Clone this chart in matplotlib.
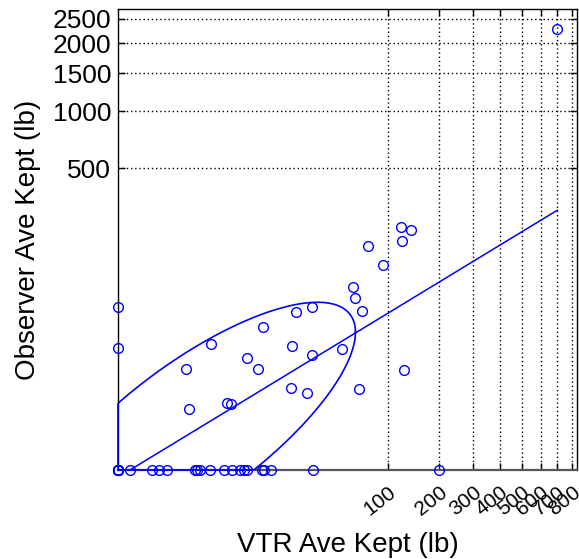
import numpy as np
import matplotlib
matplotlib.use('Agg')
import matplotlib.pyplot as plt

plt.rcParams['font.family'] = ['Liberation Sans', 'DejaVu Sans']

# trips: VTR average kept vs observer average kept (lb)
vtr_kept = [0, 0, 0, 0, 0, 0,
            0, 0,
            0.00033, 0.0243, 0.0547, 0.111, 0.644, 0.732, 0.850, 1.32, 2.40, 3.14,
            4.17, 4.78, 5.16, 8.02, 8.61, 10.3, 27.4, 200,
            1.41, 0.41, 0.48, 2.63, 3.07, 5.21, 7.22, 8.38, 16.7, 17.4, 18.7, 24.1,
            26.4, 26.6, 47.1, 57.6, 59.3, 63.7, 66.6, 73.4, 93.1, 120, 138, 123,
            126, 700]
obs_kept = [0, 0, 0, 0, 0, 0,
            42.8, 13.4,
            0, 0, 0, 0, 0, 0, 0, 0, 0, 0,
            0, 0, 0, 0, 0, 0, 0, 0,
            15.2, 6.18, 0.81, 1.24, 1.14, 9.39, 6.18, 25.4, 2.68, 14.4, 38.0, 2.07,
            10.7, 43.1, 12.8, 67.6, 53.1, 2.58, 38.5, 152, 107, 211, 200, 166,
            6.08, 2280]

x_ticks = [100, 200, 300, 400, 500, 600, 700, 800]
y_ticks = [500, 1000, 1500, 2000, 2500]

# fitted line and ellipse (4th-root units)
line_slope = 0.814
line_icpt = -0.114
ell_cx, ell_cy = 0.89, 0.63
ell_sx, ell_sy = 1.89, 2.00
ell_rho = 0.765


def fwd(v):
    v = np.asarray(v, dtype=float)
    return np.sign(v) * np.abs(v) ** 0.25


def inv(v):
    v = np.asarray(v, dtype=float)
    return np.sign(v) * np.abs(v) ** 4


fig = plt.figure(figsize=(5.79, 5.59), dpi=100)
ax = fig.add_axes([118 / 579, 89 / 559, 459 / 579, 461 / 559])
ax.set_xscale('function', functions=(fwd, inv))
ax.set_yscale('function', functions=(fwd, inv))
ax.set_xlim(0, 834)
ax.set_ylim(0, 2729)

ax.set_xticks(x_ticks)
ax.set_yticks(y_ticks)
ax.set_xticklabels([str(v) for v in x_ticks], rotation=38, ha='right',
                   va='top', rotation_mode='anchor', fontsize=15)
ax.set_yticklabels([str(v) for v in y_ticks], fontsize=19)
ax.xaxis.set_minor_locator(matplotlib.ticker.NullLocator())
ax.yaxis.set_minor_locator(matplotlib.ticker.NullLocator())
ax.tick_params(axis='both', which='major', direction='in', top=True,
               right=True, length=5, width=1, color='black')
ax.tick_params(axis='x', pad=9)
ax.tick_params(axis='y', pad=5)
ax.grid(True, color='black', linestyle=(0, (1, 2)), linewidth=1)
ax.set_axisbelow(True)

# ellipse, pushed back onto the axes where it goes below zero
t = np.linspace(0, 2 * np.pi, 721)
ex = ell_cx + ell_sx * np.cos(t)
ey = ell_cy + ell_sy * (ell_rho * np.cos(t) + np.sqrt(1 - ell_rho ** 2) * np.sin(t))
ax.plot(inv(np.clip(ex, 0, None)), inv(np.clip(ey, 0, None)), color='#0000ff',
        linewidth=1.2, clip_on=False, zorder=3)

tx = np.linspace(0, fwd(max(vtr_kept)), 300)
ty = np.clip(line_slope * tx + line_icpt, 0, None)
ax.plot(inv(tx), inv(ty), color='#0000ff', linewidth=1.1, clip_on=False, zorder=3)

ax.plot(vtr_kept, obs_kept, 'o', markerfacecolor='none', markeredgecolor='#0000ff',
        markersize=7, markeredgewidth=1.0, clip_on=False, zorder=4)

for side in ['left', 'top', 'right']:
    ax.spines[side].set_color('black')
    ax.spines[side].set_linewidth(1)
ax.spines['bottom'].set_color('#555555')
ax.spines['bottom'].set_linewidth(1.6)

ax.set_xlabel('VTR Ave Kept (lb)', fontsize=20, labelpad=9)
ax.set_ylabel('Observer Ave Kept (lb)', fontsize=20, labelpad=8)

fig.savefig('out.png', dpi=100)
